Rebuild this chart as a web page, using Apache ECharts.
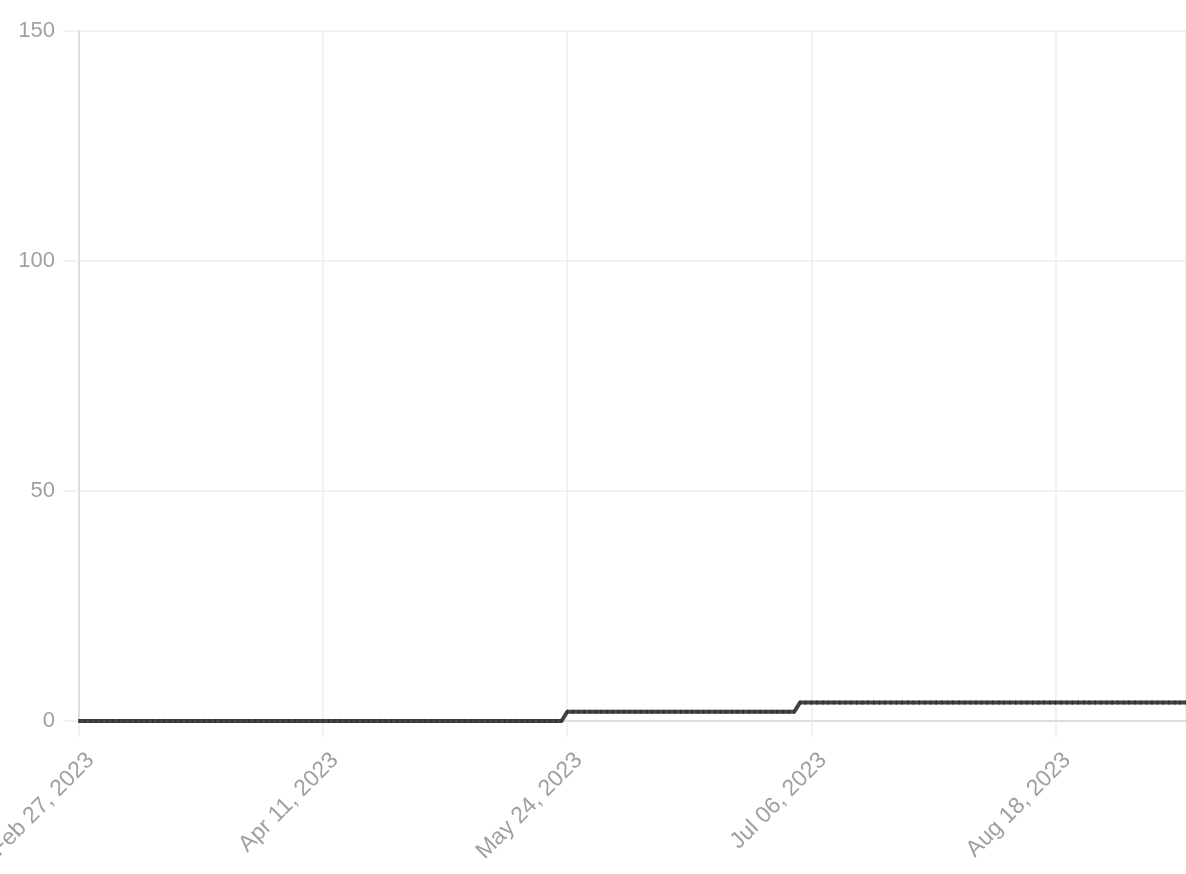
<!DOCTYPE html>
<html><head><meta charset="utf-8">
<script src="https://cdn.jsdelivr.net/npm/echarts@6/dist/echarts.min.js"></script>
<style>html,body{margin:0;padding:0;background:#fff}#c{width:1186px;height:874px}</style>
</head><body><div id="c"></div>
<script>
// Start date of day index 0
const startDate = [2023, 1, 27]; // Feb 27, 2023 (month 0-based)
// Daily values from Feb 27, 2023 to Sep 10, 2023
const values = [
0,0,0,0,0,0,0,0,0,0, 0,0,0,0,0,0,0,0,0,0, 0,0,0,0,0,0,0,0,0,0,
0,0,0,0,0,0,0,0,0,0, 0,0,0,0,0,0,0,0,0,0, 0,0,0,0,0,0,0,0,0,0,
0,0,0,0,0,0,0,0,0,0, 0,0,0,0,0,0,0,0,0,0, 0,0,0,0,0,0,
2,2,2,2,2,2,2,2,2,2, 2,2,2,2,2,2,2,2,2,2, 2,2,2,2,2,2,2,2,2,2,
2,2,2,2,2,2,2,2,2,2, 2,
4,4,4,4,4,4,4,4,4,4, 4,4,4,4,4,4,4,4,4,4, 4,4,4,4,4,4,4,4,4,4,
4,4,4,4,4,4,4,4,4,4, 4,4,4,4,4,4,4,4,4,4, 4,4,4,4,4,4,4,4,4,4,
4,4,4,4,4,4,4,4,4
];
const yTicks = [0, 50, 100, 150];
const xTickDays = 43;
const monthNames = ['Jan','Feb','Mar','Apr','May','Jun','Jul','Aug','Sep','Oct','Nov','Dec'];

function fmtDay(d) {
  const dt = new Date(Date.UTC(startDate[0], startDate[1], startDate[2] + d));
  const dd = String(dt.getUTCDate()).padStart(2, '0');
  return monthNames[dt.getUTCMonth()] + ' ' + dd + ', ' + dt.getUTCFullYear();
}

const data = values.map((v, i) => [i, v]);
const chart = echarts.init(document.getElementById('c'), null, {renderer: 'canvas'});
const font = 'Liberation Sans, Arial, Helvetica, sans-serif';
chart.setOption({
  animation: false,
  grid: {left: 79, right: 0, top: 31, bottom: 153, containLabel: false, outerBoundsMode: 'none'},
  xAxis: {
    type: 'value', min: 0, max: values.length - 1, interval: xTickDays,
    axisLine: {show: true, lineStyle: {color: '#d6d6d6', width: 1.5}},
    axisTick: {show: true, length: 16, lineStyle: {color: '#eeeeee', width: 1.5}},
    splitLine: {show: true, lineStyle: {color: '#eeeeee', width: 1.5}},
    axisLabel: {
      rotate: 45, margin: 24, color: '#a0a0a0', fontSize: 23, fontFamily: font,
      align: 'right', verticalAlign: 'top', padding: [5, 0, 0, 0],
      formatter: v => fmtDay(v), showMaxLabel: false, hideOverlap: false
    }
  },
  yAxis: {
    type: 'value', min: yTicks[0], max: yTicks[yTicks.length - 1], interval: yTicks[1] - yTicks[0],
    axisLine: {show: true, lineStyle: {color: '#d6d6d6', width: 1.5}},
    axisTick: {show: true, length: 16, lineStyle: {color: '#eeeeee', width: 1.5}},
    splitLine: {show: true, lineStyle: {color: '#eeeeee', width: 1.5}},
    axisLabel: {margin: 24, color: '#a0a0a0', fontSize: 22, fontFamily: font}
  },
  series: [{
    type: 'line', data: data,
    showSymbol: true, showAllSymbol: true, symbol: 'rect', symbolSize: [1.5, 4],
    itemStyle: {color: '#2e2e2e'},
    lineStyle: {color: '#444444', width: 4},
    clip: false
  }]
});
</script></body></html>
